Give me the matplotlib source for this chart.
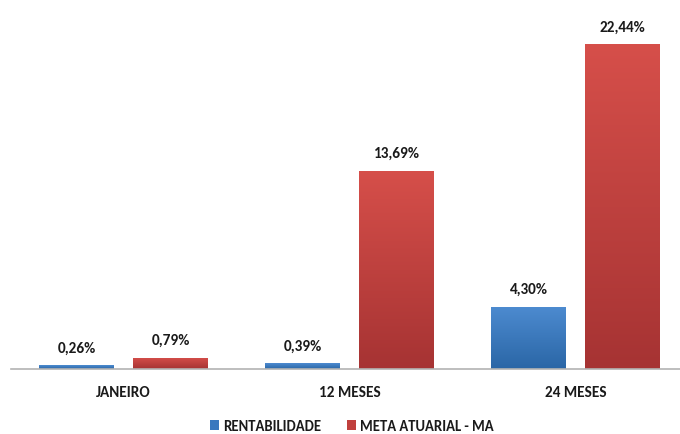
import matplotlib
matplotlib.use("Agg")
import matplotlib.pyplot as plt
import numpy as np
from matplotlib.colors import LinearSegmentedColormap
from matplotlib.patches import Patch

categories = ["JANEIRO", "12 MESES", "24 MESES"]
rentabilidade = [0.26, 0.39, 4.30]
meta_atuarial = [0.79, 13.69, 22.44]
series_names = ["RENTABILIDADE", "META ATUARIAL - MA"]

plt.rcParams["font.family"] = ["Carlito", "DejaVu Sans"]

W, H = 680, 435
fig = plt.figure(figsize=(W / 100, H / 100), dpi=100)
y0 = 370
ppu = 325 / 22.44
top = y0 - 25 * ppu
ax = fig.add_axes([10.5 / W, (H - y0) / H, 678 / W, (y0 - top) / H])
ax.axis("off")
ax.plot([-0.5, 2.5], [0, 0], color="#b3b3b3", lw=1.2, zorder=3, clip_on=False)

x = np.arange(len(categories))
bw = 75 / 226
off = (75 + 19) / 2 / 226

colors_top = ["#4d8bd0", "#d64f4a"]
colors_bot = ["#2a66a6", "#a63333"]
base_col = ["#3a78be", "#c0403d"]
fs = 11

for si, vals in enumerate([rentabilidade, meta_atuarial]):
    xs = x + (-off if si == 0 else off)
    bars = ax.bar(xs, vals, width=bw, color=base_col[si], zorder=2, edgecolor="none")
    cmap = LinearSegmentedColormap.from_list("g", [colors_bot[si], colors_top[si]])
    for b, v in zip(bars, vals):
        xl = b.get_x()
        grad = np.linspace(0, 1, 256).reshape(-1, 1)
        im = ax.imshow(grad, extent=[xl, xl + bw, 0, v], origin="lower",
                       aspect="auto", cmap=cmap, zorder=2.1)
        im.set_clip_path(b)
        ax.text(xl + bw / 2, v + 17.5 / ppu, f"{v:.2f}".replace(".", ",") + "%",
                ha="center", va="center", fontsize=fs, fontweight="bold", color="#1a1a1a")

ax.set_xlim(-0.5, 2.5)
ax.set_ylim(0, 25)

for xi, c in zip(x, categories):
    ax.text(xi, -23.5 / ppu, c, ha="center", va="center", fontsize=fs,
            fontweight="bold", color="#1a1a1a")

lfs = 10.5
em = lfs * 100 / 72
handles = [Patch(facecolor=base_col[0]), Patch(facecolor=base_col[1])]
leg = fig.legend(handles, series_names, loc="center", bbox_to_anchor=(352 / W, 1 - 427 / H),
                 ncol=2, frameon=False, handlelength=9 / em, handleheight=9 / em,
                 handletextpad=4 / em, columnspacing=26 / em, borderpad=0,
                 prop={"size": lfs, "weight": "bold"})
for t in leg.get_texts():
    t.set_color("#1a1a1a")

fig.savefig("out.png", dpi=100, facecolor="white")
